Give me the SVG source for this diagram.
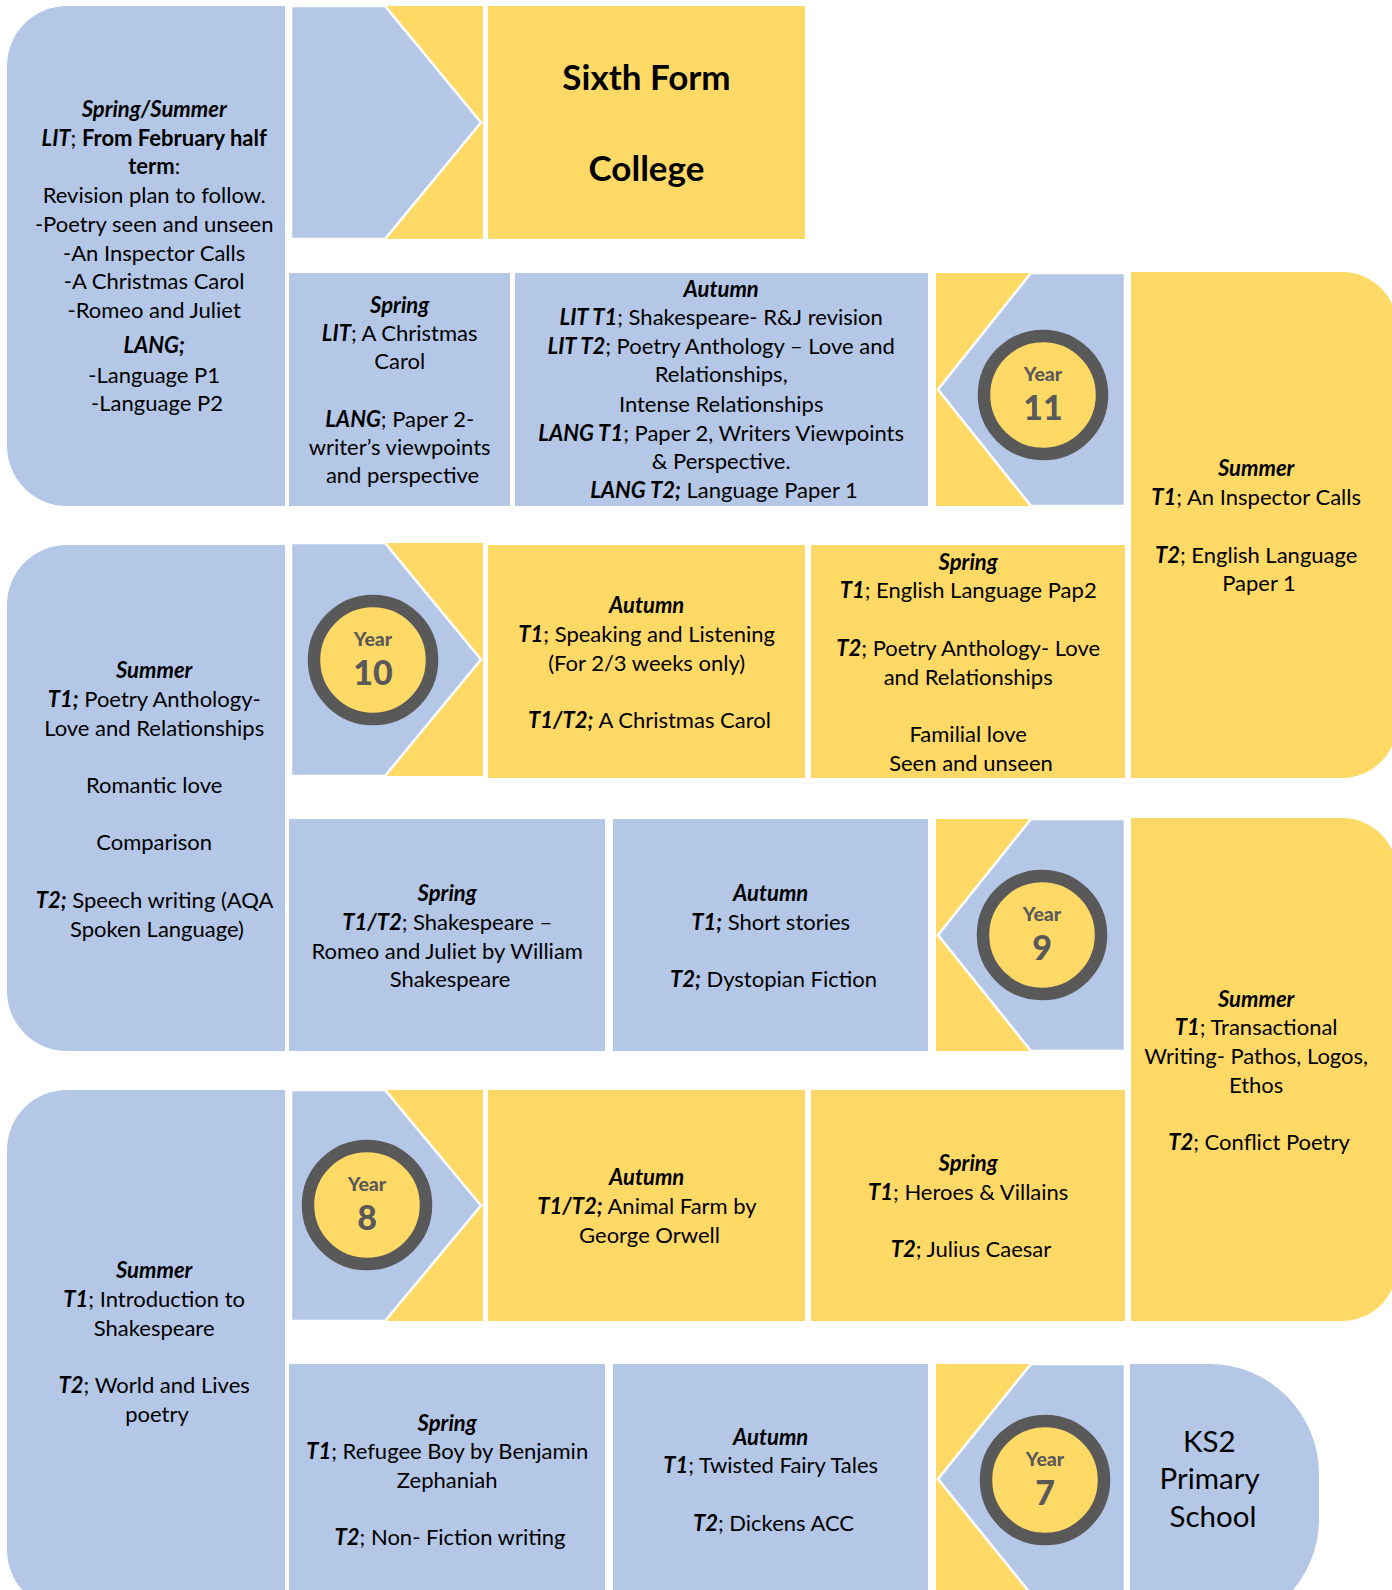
<svg xmlns="http://www.w3.org/2000/svg" width="1392" height="1590" viewBox="0 0 1392 1590">
<style>
.bl{fill:#B4C7E7}
.ye{fill:#FFD966}
.chev{fill:#B4C7E7;stroke:#fff;stroke-width:2.5;stroke-linejoin:miter}
.ring{fill:#FFD966;stroke:#595959;stroke-width:12.5}
.t{font-family:Lato,"Liberation Sans",sans-serif;font-size:22px;fill:#000;text-anchor:middle}
.bi{font-weight:bold;font-style:italic}
.b{font-weight:bold}
.big{font-family:Lato,"Liberation Sans",sans-serif;font-size:35px;font-weight:bold;fill:#000;text-anchor:middle}
.ks{font-family:Lato,"Liberation Sans",sans-serif;font-size:29.5px;fill:#000;text-anchor:middle}
.yr{font-family:Lato,"Liberation Sans",sans-serif;font-weight:900;fill:#595959;text-anchor:middle}
.yw{font-size:19.5px}
.yn{font-size:34px}
</style>
<rect width="1392" height="1590" fill="#fff"/>

<!-- Year 11 Spring/Summer -->
<g id="y11-spring-summer">
<path class="bl" d="M285,6 H67 A60,60 0 0 0 7,66 V446 A60,60 0 0 0 67,506 H285 Z"/>
<text class="t">
<tspan x="157" y="117.3" class="bi">Spring/Summer</tspan>
<tspan x="157" y="145.7"><tspan class="bi">LIT</tspan>; <tspan class="b">From February half</tspan></tspan>
<tspan x="157" y="174.3"><tspan class="b">term</tspan>:</tspan>
<tspan x="157" y="203.3">Revision plan to follow.</tspan>
<tspan x="157" y="231.7">-Poetry seen and unseen</tspan>
<tspan x="157" y="260.7">-An Inspector Calls</tspan>
<tspan x="157" y="289.3">-A Christmas Carol</tspan>
<tspan x="157" y="318.3">-Romeo and Juliet</tspan>
<tspan x="157" y="353.3" class="bi">LANG;</tspan>
<tspan x="157" y="382.7">-Language P1</tspan>
<tspan x="157" y="411">-Language P2</tspan>
</text>
</g>

<!-- Arrow to Sixth Form -->
<g id="arrow-sixth-form">
<rect class="ye" x="383" y="6" width="100" height="233"/>
<polygon class="chev" points="291,6 385,6 481,122.5 385,239 291,239"/>
</g>

<g id="sixth-form">
<rect class="ye" x="488" y="6" width="317" height="233"/>
<text class="big"><tspan x="646.5" y="90">Sixth Form</tspan><tspan x="646.5" y="180.5">College</tspan></text>
</g>

<!-- Row 2 -->
<g id="y11-spring">
<rect class="bl" x="289" y="273" width="221" height="233"/>
<text class="t">
<tspan x="402.5" y="313.3" class="bi">Spring</tspan>
<tspan x="402.5" y="340.7"><tspan class="bi">LIT</tspan>; A Christmas</tspan>
<tspan x="402.5" y="369">Carol</tspan>
<tspan x="402.5" y="426.7"><tspan class="bi">LANG</tspan>; Paper 2-</tspan>
<tspan x="402.5" y="455">writer’s viewpoints</tspan>
<tspan x="402.5" y="483.3">and perspective</tspan>
</text>
</g>

<g id="y11-autumn">
<rect class="bl" x="515" y="273" width="413" height="233"/>
<text class="t">
<tspan x="724" y="296.7" class="bi">Autumn</tspan>
<tspan x="724" y="325"><tspan class="bi">LIT T1</tspan>; Shakespeare- R&amp;J revision</tspan>
<tspan x="724" y="354"><tspan class="bi">LIT T2</tspan>; Poetry Anthology – Love and</tspan>
<tspan x="724" y="382.3">Relationships,</tspan>
<tspan x="724" y="411.7">Intense Relationships</tspan>
<tspan x="724" y="440.7"><tspan class="bi">LANG T1</tspan>; Paper 2, Writers Viewpoints</tspan>
<tspan x="724" y="469">&amp; Perspective.</tspan>
<tspan x="724" y="498.3"><tspan class="bi">LANG T2;</tspan> Language Paper 1</tspan>
</text>
</g>

<g id="year-11">
<rect class="ye" x="936" y="273" width="100" height="233"/>
<polygon class="chev" points="1125,273 1031,273 938,389.5 1031,506 1125,506"/>
<circle class="ring" cx="1043" cy="395" r="59"/>
<text class="yr"><tspan x="1043" y="381" class="yw">Year</tspan><tspan x="1043" y="420" class="yn">11</tspan></text>
</g>

<g id="y11-summer">
<path class="ye" d="M1131,272 H1342 A55,55 0 0 1 1397,327 V723 A55,55 0 0 1 1342,778 H1131 Z"/>
<text class="t">
<tspan x="1259" y="476" class="bi">Summer</tspan>
<tspan x="1259" y="505"><tspan class="bi">T1</tspan>; An Inspector Calls</tspan>
<tspan x="1259" y="562.5"><tspan class="bi">T2</tspan>; English Language</tspan>
<tspan x="1259" y="591">Paper 1</tspan>
</text>
</g>

<!-- Row 3 -->
<g id="y10-summer">
<path class="bl" d="M285,545 H67 A60,60 0 0 0 7,605 V991 A60,60 0 0 0 67,1051 H285 Z"/>
<text class="t">
<tspan x="157" y="678.2" class="bi">Summer</tspan>
<tspan x="157" y="706.9"><tspan class="bi">T1;</tspan> Poetry Anthology-</tspan>
<tspan x="157" y="735.6">Love and Relationships</tspan>
<tspan x="157" y="793">Romantic love</tspan>
<tspan x="157" y="850.4">Comparison</tspan>
<tspan x="157" y="907.8"><tspan class="bi">T2;</tspan> Speech writing (AQA</tspan>
<tspan x="157" y="936.5">Spoken Language)</tspan>
</text>
</g>

<g id="year-10">
<rect class="ye" x="383" y="543" width="100" height="233"/>
<polygon class="chev" points="291,543 385,543 481,659.5 385,776 291,776"/>
<circle class="ring" cx="373" cy="660" r="59"/>
<text class="yr"><tspan x="373" y="646" class="yw">Year</tspan><tspan x="373" y="685" class="yn">10</tspan></text>
</g>

<g id="y10-autumn">
<rect class="ye" x="488" y="545" width="317" height="233"/>
<text class="t">
<tspan x="649.5" y="613.3" class="bi">Autumn</tspan>
<tspan x="649.5" y="642"><tspan class="bi">T1</tspan>; Speaking and Listening</tspan>
<tspan x="649.5" y="670.7">(For 2/3 weeks only)</tspan>
<tspan x="649.5" y="728.1"><tspan class="bi">T1/T2;</tspan> A Christmas Carol</tspan>
</text>
</g>

<g id="y10-spring">
<rect class="ye" x="811" y="545" width="314" height="233"/>
<text class="t">
<tspan x="971" y="569.7" class="bi">Spring</tspan>
<tspan x="971" y="598.4"><tspan class="bi">T1</tspan>; English Language Pap2</tspan>
<tspan x="971" y="655.8"><tspan class="bi">T2</tspan>; Poetry Anthology- Love</tspan>
<tspan x="971" y="684.5">and Relationships</tspan>
<tspan x="971" y="741.9">Familial love</tspan>
<tspan x="971" y="770.6">Seen and unseen</tspan>
</text>
</g>

<!-- Row 4 -->
<g id="y9-spring">
<rect class="bl" x="289" y="819" width="316" height="232"/>
<text class="t">
<tspan x="450" y="901.2" class="bi">Spring</tspan>
<tspan x="450" y="929.9"><tspan class="bi">T1/T2</tspan>; Shakespeare –</tspan>
<tspan x="450" y="958.6">Romeo and Juliet by William</tspan>
<tspan x="450" y="987.3">Shakespeare</tspan>
</text>
</g>

<g id="y9-autumn">
<rect class="bl" x="613" y="819" width="315" height="232"/>
<text class="t">
<tspan x="773.5" y="901.2" class="bi">Autumn</tspan>
<tspan x="773.5" y="929.9"><tspan class="bi">T1;</tspan> Short stories</tspan>
<tspan x="773.5" y="987.3"><tspan class="bi">T2;</tspan> Dystopian Fiction</tspan>
</text>
</g>

<g id="year-9">
<rect class="ye" x="936" y="819" width="100" height="232"/>
<polygon class="chev" points="1125,819 1031,819 938,935 1031,1051 1125,1051"/>
<circle class="ring" cx="1042" cy="935" r="59"/>
<text class="yr"><tspan x="1042" y="921" class="yw">Year</tspan><tspan x="1042" y="960" class="yn">9</tspan></text>
</g>

<g id="y9-summer">
<path class="ye" d="M1131,818 H1342 A55,55 0 0 1 1397,873 V1266 A55,55 0 0 1 1342,1321 H1131 Z"/>
<text class="t">
<tspan x="1259" y="1006.7" class="bi">Summer</tspan>
<tspan x="1259" y="1035.4"><tspan class="bi">T1</tspan>; Transactional</tspan>
<tspan x="1259" y="1064.1">Writing- Pathos, Logos,</tspan>
<tspan x="1259" y="1092.8">Ethos</tspan>
<tspan x="1259" y="1150.2"><tspan class="bi">T2</tspan>; Conflict Poetry</tspan>
</text>
</g>

<!-- Row 5 -->
<g id="y8-summer">
<path class="bl" d="M285,1090 H67 A60,60 0 0 0 7,1150 V1550 A60,60 0 0 0 67,1610 H285 Z"/>
<text class="t">
<tspan x="157" y="1278.4" class="bi">Summer</tspan>
<tspan x="157" y="1307.1"><tspan class="bi">T1</tspan>; Introduction to</tspan>
<tspan x="157" y="1335.8">Shakespeare</tspan>
<tspan x="157" y="1393.2"><tspan class="bi">T2</tspan>; World and Lives</tspan>
<tspan x="157" y="1421.9">poetry</tspan>
</text>
</g>

<g id="year-8">
<rect class="ye" x="383" y="1090" width="100" height="231"/>
<polygon class="chev" points="291,1090 385,1090 481,1205.5 385,1321 291,1321"/>
<circle class="ring" cx="367" cy="1205" r="59"/>
<text class="yr"><tspan x="367" y="1191" class="yw">Year</tspan><tspan x="367" y="1230" class="yn">8</tspan></text>
</g>

<g id="y8-autumn">
<rect class="ye" x="488" y="1090" width="317" height="231"/>
<text class="t">
<tspan x="649.5" y="1185.1" class="bi">Autumn</tspan>
<tspan x="649.5" y="1213.8"><tspan class="bi">T1/T2;</tspan> Animal Farm by</tspan>
<tspan x="649.5" y="1242.5">George Orwell</tspan>
</text>
</g>

<g id="y8-spring">
<rect class="ye" x="811" y="1090" width="314" height="231"/>
<text class="t">
<tspan x="971" y="1171" class="bi">Spring</tspan>
<tspan x="971" y="1199.7"><tspan class="bi">T1</tspan>; Heroes &amp; Villains</tspan>
<tspan x="971" y="1257.1"><tspan class="bi">T2</tspan>; Julius Caesar</tspan>
</text>
</g>

<!-- Row 6 -->
<g id="y7-spring">
<rect class="bl" x="289" y="1364" width="316" height="240"/>
<text class="t">
<tspan x="450" y="1430.5" class="bi">Spring</tspan>
<tspan x="450" y="1459.2"><tspan class="bi">T1</tspan>; Refugee Boy by Benjamin</tspan>
<tspan x="450" y="1487.9">Zephaniah</tspan>
<tspan x="450" y="1545.3"><tspan class="bi">T2</tspan>; Non- Fiction writing</tspan>
</text>
</g>

<g id="y7-autumn">
<rect class="bl" x="613" y="1364" width="315" height="240"/>
<text class="t">
<tspan x="773.5" y="1444.7" class="bi">Autumn</tspan>
<tspan x="773.5" y="1473.4"><tspan class="bi">T1</tspan>; Twisted Fairy Tales</tspan>
<tspan x="773.5" y="1530.8"><tspan class="bi">T2</tspan>; Dickens ACC</tspan>
</text>
</g>

<g id="year-7">
<rect class="ye" x="936" y="1364" width="100" height="240"/>
<polygon class="chev" points="1125,1364 1031,1364 938,1479 1031,1594 1125,1594"/>
<circle class="ring" cx="1045" cy="1480" r="59"/>
<text class="yr"><tspan x="1045" y="1466" class="yw">Year</tspan><tspan x="1045" y="1505" class="yn">7</tspan></text>
</g>

<g id="ks2-primary">
<path class="bl" d="M1130,1364 H1209 A110,110 0 0 1 1319,1474 V1519 A110,110 0 0 1 1209,1629 H1130 Z"/>
<text class="ks">
<tspan x="1213" y="1451.7">KS2</tspan>
<tspan x="1213" y="1489.4">Primary</tspan>
<tspan x="1213" y="1527.1">School</tspan>
</text>
</g>
</svg>
